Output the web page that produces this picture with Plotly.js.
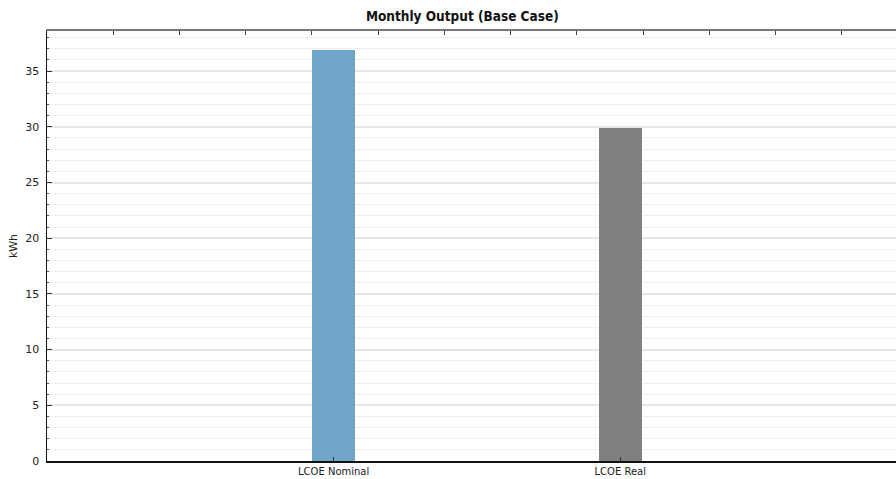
<!DOCTYPE html>
<html><head><meta charset="utf-8">
<script src="https://cdn.plot.ly/plotly-3.0.1.min.js"></script>
<style>html,body{margin:0;padding:0;background:#fff;overflow:hidden}</style>
</head><body><div id="chart" style="width:896px;height:479px"></div>
<script>
const categories = ["LCOE Nominal", "LCOE Real"];
const values = [36.85, 29.85];
const barColors = ["#6fa5c6", "#808080"];
const yTickVals = [0, 5, 10, 15, 20, 25, 30, 35];

const traces = [
  {type: "bar", x: categories, y: values, marker: {color: barColors, line: {width: 0}},
   width: 0.15, hoverinfo: "skip", showlegend: false},
  {type: "scatter", x: [0], y: [0], xaxis: "x2", yaxis: "y", mode: "markers",
   marker: {opacity: 0}, hoverinfo: "skip", showlegend: false}
];

const layout = {
  width: 896, height: 479,
  margin: {l: 47, r: 0, t: 31, b: 18, pad: 0},
  paper_bgcolor: "#fff", plot_bgcolor: "#fff",
  font: {family: "DejaVu Sans, sans-serif", size: 10, color: "#222"},
  title: {text: "<b>Monthly Output (Base Case)</b>", x: 0.516, xanchor: "center",
          y: 0.965, yanchor: "middle", font: {size: 13.5, color: "#111", family: "DejaVu Sans Condensed, DejaVu Sans, sans-serif"}},
  showlegend: false,
  bargap: 0,
  xaxis: {type: "category", range: [-1, 1.962], showgrid: false, zeroline: false,
          showline: true, linecolor: "#111", linewidth: 1.5,
          ticks: "inside", ticklen: 4, tickcolor: "#333", tickwidth: 1,
          tickfont: {size: 10, color: "#222"}, fixedrange: true},
  xaxis2: {overlaying: "x", side: "top", range: [0, 12.82], dtick: 1, tick0: 0,
           showticklabels: false, ticks: "inside", ticklen: 4, tickcolor: "#444", tickwidth: 1,
           showline: true, linecolor: "#777", linewidth: 2, showgrid: false, zeroline: false},
  yaxis: {range: [0, 38.6], tickvals: yTickVals, ticktext: yTickVals.map(String),
          showline: true, linecolor: "#111", linewidth: 1.5,
          ticks: "inside", ticklen: 5, tickcolor: "#333", tickwidth: 1,
          showgrid: true, gridcolor: "#e6e6e6", gridwidth: 2, zeroline: false,
          tickfont: {size: 11, color: "#222"}, ticklabelstandoff: 4,
          minor: {dtick: 1, showgrid: true, gridcolor: "#e0e0e0", griddash: "1px,1px", gridwidth: 1,
                  ticks: "inside", ticklen: 2, tickcolor: "#555"},
          title: {text: "kWh", font: {size: 11, color: "#222"}, standoff: 5}}
};

Plotly.newPlot("chart", traces, layout, {displayModeBar: false, staticPlot: true});
</script></body></html>
